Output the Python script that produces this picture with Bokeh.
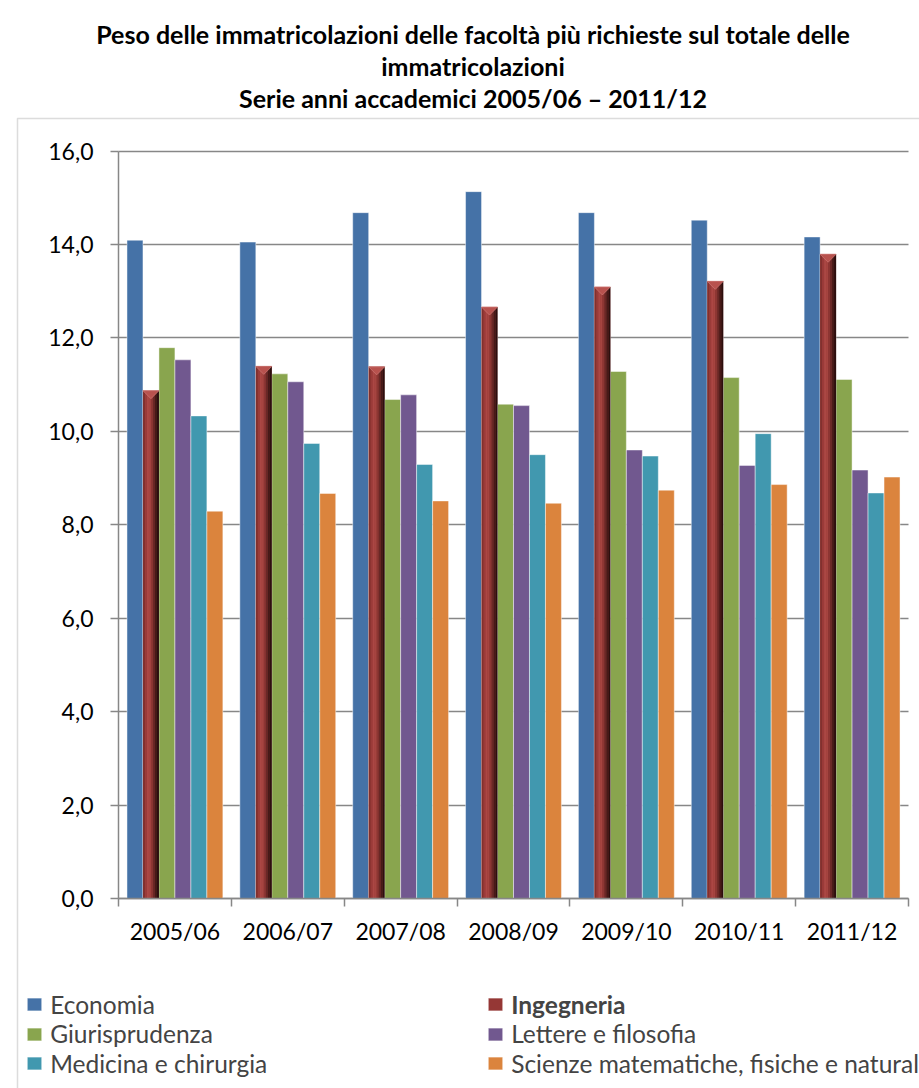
from bokeh.plotting import figure
from bokeh.models import (Range1d, FixedTicker, Label, BoxAnnotation, Legend,
                          LegendItem, ColumnDataSource)
from bokeh.transform import dodge
from bokeh.embed import file_html
from bokeh.resources import INLINE

# ---------------- data ----------------
years = ["2005/06", "2006/07", "2007/08", "2008/09", "2009/10", "2010/11", "2011/12"]
economia = [14.09, 14.05, 14.68, 15.13, 14.68, 14.52, 14.16]
ingegneria = [10.87, 11.39, 11.38, 12.66, 13.09, 13.21, 13.79]
giurisprudenza = [11.79, 11.23, 10.68, 10.58, 11.28, 11.15, 11.11]
lettere = [11.53, 11.06, 10.78, 10.55, 9.60, 9.27, 9.17]
medicina = [10.33, 9.74, 9.29, 9.50, 9.47, 9.95, 8.68]
scienze = [8.29, 8.67, 8.51, 8.46, 8.74, 8.86, 9.02]
series_names = ["Economia", "Ingegneria", "Giurisprudenza", "Lettere e filosofia",
                "Medicina e chirurgia", "Scienze matematiche, fisiche e naturali"]
y_ticks = [0, 2, 4, 6, 8, 10, 12, 14, 16]
title_lines = ["Peso delle immatricolazioni delle facoltà più richieste sul totale delle",
               "immatricolazioni",
               "Serie anni accademici 2005/06 \u2013 2011/12"]

# ---------------- style / layout ----------------
colors = ["#4572A7", "#953735", "#89A54E", "#71588F", "#4198AF", "#DB843D"]
grid_col = "#878787"
FONT = "Lato"
W, H = 919, 1088
# pixel placement of the plotting area inside the canvas
PX_L, PX_R, PX_T, PX_B = 118.0, 908.0, 150.5, 898.0
n_cat = len(years)
y_max = 16.0
ppx = (PX_R - PX_L) / n_cat
ppy = (PX_B - PX_T) / y_max
x_range = Range1d(-PX_L / ppx, n_cat + (W - PX_R) / ppx)
y_range = Range1d(-(H - PX_B) / ppy, y_max + PX_T / ppy)

p = figure(width=W, height=H, x_range=x_range, y_range=y_range, title=None,
           output_backend="svg", toolbar_location=None, min_border=0)
p.outline_line_color = None
p.background_fill_color = "white"
p.border_fill_color = "white"

centers = [i + 0.5 for i in range(n_cat)]
src = ColumnDataSource(dict(x=centers, eco=economia, ing=ingegneria, giu=giurisprudenza,
                            let=lettere, med=medicina, sci=scienze))
cols = ["eco", "ing", "giu", "let", "med", "sci"]
bar_w = 0.1416
offsets = [(k - 2.5) * bar_w for k in range(6)]

# ---------------- grid ----------------
g = p.ygrid[0]
g.ticker = FixedTicker(ticks=y_ticks)
if "cross_bounds" in g.properties():
    g.cross_bounds = (0, n_cat)
    g.grid_line_color = grid_col
    g.grid_line_width = 1.5
else:
    g.grid_line_color = None
    p.segment(x0=[0] * len(y_ticks), x1=[n_cat] * len(y_ticks), y0=y_ticks, y1=y_ticks,
              line_color=grid_col, line_width=1.5)
p.xgrid.grid_line_color = None

# ---------------- bars ----------------
renderers = []
for k, c in enumerate(cols):
    r = p.vbar(x=dodge("x", offsets[k], range=p.x_range), top=c, width=bar_w, bottom=0,
               source=src, fill_color=colors[k], line_color="white", line_alpha=0.45,
               line_width=1)
    renderers.append(r)

# shading for the "Ingegneria" cylinder-like bars
strip_cols = ["#82302e", "#9a3b39", "#ab4744", "#a54440", "#8c3633", "#692826",
              "#461a18", "#2c0f0e"]
ns = len(strip_cols)
sw = bar_w / ns
for j, sc in enumerate(strip_cols):
    off = offsets[1] - bar_w / 2 + (j + 0.5) * sw
    p.vbar(x=dodge("x", off, range=p.x_range), top="ing", width=sw * 1.02, bottom=0,
           source=src, fill_color=sc, line_color=None)

tri_depth = 8 / ppy
xs = [[cx + offsets[1] - bar_w / 2, cx + offsets[1] + bar_w / 2, cx + offsets[1]] for cx in centers]
ys = [[v, v, v - tri_depth] for v in ingegneria]
p.patches(xs=xs, ys=ys, fill_color="#b8524e", line_color="#cc7470", line_width=0.8)

# ---------------- axes (pinned at data positions) ----------------
yax = p.yaxis[0]
yax.fixed_location = 0
yax.bounds = (0, y_max)
yax.ticker = FixedTicker(ticks=y_ticks, minor_ticks=[])
yax.major_label_overrides = {t: f"{t:.1f}".replace(".", ",") for t in y_ticks}
yax.axis_line_color = grid_col
yax.axis_line_width = 1.5
yax.major_tick_line_color = grid_col
yax.major_tick_line_width = 1.5
yax.major_tick_out = 8
yax.major_tick_in = 0
yax.minor_tick_line_color = None
yax.major_label_standoff = 17
yax.major_label_text_font = FONT
yax.major_label_text_font_size = "23px"
yax.major_label_text_color = "black"

xax = p.xaxis[0]
xax.fixed_location = 0
xax.bounds = (0, n_cat)
xax.ticker = FixedTicker(ticks=centers, minor_ticks=list(range(n_cat + 1)))
xax.major_label_overrides = {cx: y for cx, y in zip(centers, years)}
xax.axis_line_color = grid_col
xax.axis_line_width = 1.5
xax.major_tick_line_color = None
xax.major_tick_out = 0
xax.major_tick_in = 0
xax.minor_tick_line_color = grid_col
xax.minor_tick_line_width = 1.5
xax.minor_tick_out = 8
xax.minor_tick_in = 0
xax.major_label_standoff = 10
xax.major_label_text_font = FONT
xax.major_label_text_font_size = "23px"
xax.major_label_text_color = "black"

# ---------------- chart border ----------------
p.add_layout(BoxAnnotation(left=17, right=W + 200, top=H - 118, bottom=-200,
                           left_units="screen", right_units="screen",
                           top_units="screen", bottom_units="screen",
                           fill_alpha=0, line_color="#8c8c8c", line_width=1.5))

# ---------------- title ----------------
for txt, base in zip(title_lines, [33, 65, 97]):
    p.add_layout(Label(x=472.5, y=H - base, x_units="screen", y_units="screen", text=txt,
                       text_align="center", text_baseline="alphabetic",
                       text_font=FONT, text_font_style="bold", text_font_size="25px",
                       text_color="black"))

# ---------------- legend ----------------
LH = 30
row_tops = [989.4, 1018.7, 1048.0]
col_x = [25.2, 486.2]
for k in range(6):
    cx_, ry = col_x[k % 2], row_tops[k // 2]
    lg = Legend(items=[LegendItem(label=series_names[k], renderers=[renderers[k]])],
                location=(cx_, H - ry - LH), padding=0, margin=0, spacing=0,
                glyph_width=18, glyph_height=16, label_standoff=7, label_height=LH,
                label_text_font=FONT, label_text_font_size="24.5px",
                label_text_baseline="alphabetic",
                label_text_font_style="bold" if k == 1 else "normal",
                border_line_color=None, background_fill_alpha=0)
    p.add_layout(lg)

open("out.html", "w").write(file_html(p, INLINE))
